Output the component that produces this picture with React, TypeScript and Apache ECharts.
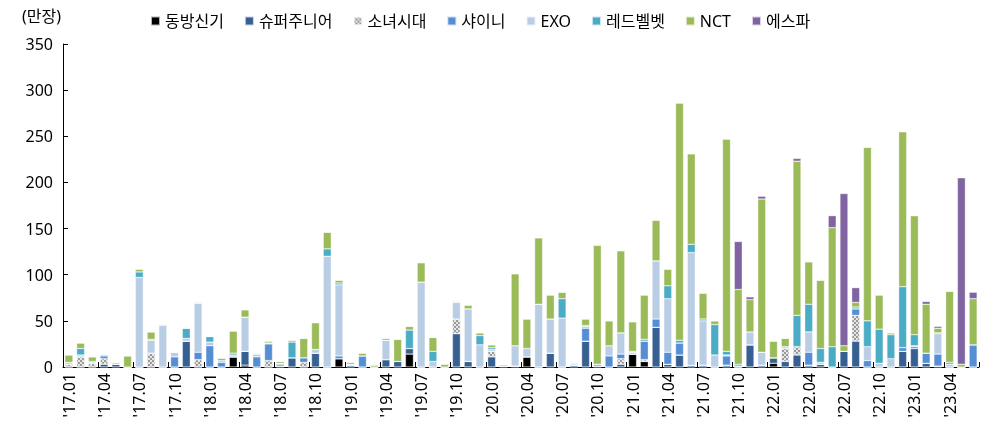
import React, { useEffect, useRef } from "react";
import * as echarts from "echarts";

const years = ["17", "18", "19", "20", "21", "22", "23"];
const categories: string[] = [];
for (const y of years) {
  for (let m = 1; m <= 12; m++) {
    if (y === "23" && m > 6) break;
    categories.push(`'${y}.${m < 10 ? "0" + m : m}`);
  }
}

const seriesNames = ["동방신기", "슈퍼주니어", "소녀시대", "샤이니", "EXO", "레드벨벳", "NCT", "에스파"];

const tvxq = [0,0,0,0,0,0,0,0,0,0,0,0,0,0,11,2,0,0,0,0,0,0,0,9,0,0,0,0,0,14,0,0,0,0,0,0,0,0,0,11,0,0,0,0,0,0,0,0,14,6,0,0,0,0,0,0,0,0,0,0,4,0,0,0,0,0,0,0,0,0,0,0,0,0,0,0,0,0];
const suju = [0,0,0,3,3,0,0,0,0,0,28,0,0,0,0,15,0,0,1,10,0,15,0,0,2,0,0,8,6,6,0,0,0,36,6,0,11,1,1,0,0,15,0,2,28,1,0,3,0,0,43,3,13,2,2,0,2,0,24,2,6,6,13,2,3,0,17,28,0,0,0,17,20,4,1,0,0,0];
const snsd = [3,11,4,6,0,0,0,15,0,0,0,8,0,0,0,0,0,7,0,0,5,0,0,0,0,0,0,0,0,0,0,0,0,16,0,0,6,0,0,0,0,0,0,0,0,0,0,6,0,2,0,0,0,0,0,0,0,0,0,0,0,14,9,0,0,0,0,28,0,0,0,0,0,0,0,0,0,0];
const shinee = [0,0,0,3,0,0,0,0,0,11,0,8,23,5,0,0,11,18,2,0,5,0,0,3,0,12,0,0,0,0,0,0,0,0,0,0,0,0,0,0,0,0,0,0,14,2,12,5,0,20,9,13,13,0,0,0,10,1,0,0,0,0,0,14,0,0,0,7,7,0,0,4,2,11,13,0,0,24];
const exo = [2,2,1,2,2,0,97,14,45,5,3,53,4,2,2,37,3,1,1,0,0,4,120,77,1,0,0,21,0,0,92,6,0,18,57,24,2,2,22,9,68,37,53,0,2,0,11,23,2,0,63,58,0,122,48,13,1,0,14,14,0,2,0,22,2,0,0,0,15,4,9,0,1,0,22,3,0,0];
const redvelvet = [0,7,1,0,0,0,6,1,0,0,11,0,6,2,2,0,0,0,0,17,0,0,8,2,0,0,0,0,0,20,0,11,0,0,0,10,2,0,0,0,0,0,21,1,1,0,0,0,1,2,0,14,3,9,2,33,4,2,0,0,0,0,34,30,15,22,0,2,28,37,26,66,12,0,1,2,0,0];
const nct = [8,6,5,0,0,12,3,8,1,0,0,1,0,1,24,8,1,2,2,2,21,29,18,3,2,3,2,2,24,4,21,15,3,1,4,3,3,0,78,32,72,26,7,1,7,129,27,89,32,48,44,18,257,98,28,4,230,81,35,166,18,9,167,46,74,129,6,5,188,37,2,168,129,53,5,77,3,50];
const aespa = [0,0,0,0,0,0,0,0,0,0,0,0,0,0,0,0,0,0,0,0,0,0,0,0,0,0,0,0,0,0,0,0,0,0,0,0,0,0,0,0,0,0,0,0,0,0,0,0,0,0,0,0,0,0,0,0,0,52,3,3,0,0,3,0,0,13,165,16,0,0,0,0,0,3,2,0,202,7];

const seriesData = [tvxq, suju, snsd, shinee, exo, redvelvet, nct, aespa];
const colors = ["#000000", "#366092", "#9a9a9a", "#558ED5", "#B9CDE5", "#4BACC6", "#9BBB59", "#8064A2"];

const yTicks = { min: 0, max: 350, interval: 50 };
const unitLabel = "(만장)";

const FONT = "'Noto Sans', 'Noto Sans CJK KR', sans-serif";

export default function App() {
  const ref = useRef<HTMLDivElement>(null);
  useEffect(() => {
    if (!ref.current) return;
    const chart = echarts.init(ref.current, undefined, { renderer: "svg" });
    const series = seriesNames.map((name, idx) => ({
      name,
      type: "bar",
      stack: "total",
      barCategoryGap: "32%",
      data: seriesData[idx],
      itemStyle: {
        color: colors[idx],
        borderColor: "rgba(255,255,255,0.7)",
        borderWidth: 0.5,
        ...(idx === 2
          ? {
              decal: {
                symbol: "rect",
                symbolSize: 1,
                color: "rgba(255,255,255,0.75)",
                dashArrayX: [[2, 2], [0, 2, 2, 0]],
                dashArrayY: [2, 0],
                rotation: 0,
              },
            }
          : {}),
      },
    }));
    chart.setOption({
      animation: false,
      textStyle: { fontFamily: FONT },
      legend: {
        data: seriesNames,
        left: 145,
        top: 8,
        itemWidth: 9,
        itemHeight: 9,
        itemGap: 20,
        icon: "rect",
        textStyle: { fontSize: 16, color: "#000", fontFamily: FONT },
      },
      graphic: [
        {
          type: "text",
          left: 22,
          top: 8,
          style: { text: unitLabel, fontSize: 16, fill: "#000", fontFamily: FONT },
        },
      ],
      grid: { left: 63, right: 9, top: 44, bottom: 61 },
      xAxis: {
        type: "category",
        data: categories,
        axisLine: { lineStyle: { color: "#000", width: 1 } },
        axisTick: { show: true, inside: true, interval: 2, length: 5, lineStyle: { color: "#000" } },
        axisLabel: {
          interval: 2,
          rotate: 90,
          fontSize: 16,
          color: "#000",
          margin: 6,
          fontFamily: FONT,
        },
      },
      yAxis: {
        type: "value",
        min: yTicks.min,
        max: yTicks.max,
        interval: yTicks.interval,
        axisLine: { show: true, lineStyle: { color: "#000", width: 1 } },
        axisTick: { show: true, inside: true, length: 5, lineStyle: { color: "#000" } },
        splitLine: { show: false },
        axisLabel: { fontSize: 16, color: "#000", margin: 10, fontFamily: FONT },
      },
      series,
    });
    return () => chart.dispose();
  }, []);
  return (
    <div
      ref={ref}
      style={{ position: "fixed", left: 0, top: 0, width: 988, height: 428 }}
    />
  );
}
